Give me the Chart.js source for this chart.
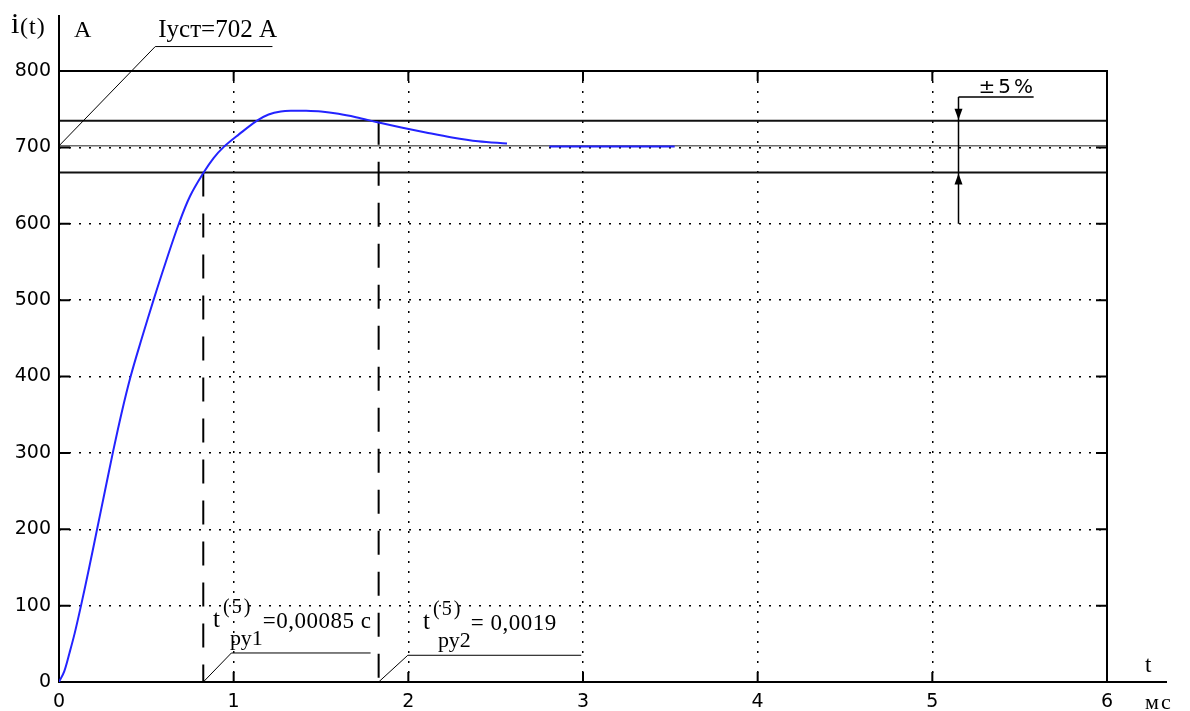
<!DOCTYPE html>
<html>
<head>
<meta charset="utf-8">
<title>i(t)</title>
<script src="https://cdn.jsdelivr.net/npm/chart.js@4.4.1/dist/chart.umd.min.js"></script>
<style>
  html, body { margin: 0; padding: 0; background: #fff; }
  #wrap { width: 1190px; height: 711px; }
</style>
</head>
<body>
<div id="wrap"><canvas id="chartCanvas" width="1190" height="711"></canvas></div>
<script>
// данные кривой тока (время в мс, ток в А), null = разрыв линии
const timeMs = [0, 0.03, 0.06, 0.09, 0.126, 0.172, 0.218, 0.263, 0.308, 0.358,
  0.41, 0.474, 0.541, 0.61, 0.686, 0.75, 0.828, 0.885, 0.945, 1.03,
  1.134, 1.2, 1.27, 1.34, 1.41, 1.5, 1.6, 1.7, 1.83, 1.96,
  2.1, 2.25, 2.4, 2.565, 2.68, 2.807, 3.525];
const currentA = [0, 14, 38, 64, 100, 149, 200, 250, 300, 352,
  400, 450, 500, 549, 600, 636, 667, 686, 701, 717,
  735, 743, 747, 748, 748, 747, 744, 739.5, 732.5, 726,
  719.5, 713, 708, 705, null, 701, 701];

// оси
const xTicks = [0, 1, 2, 3, 4, 5, 6];
const yTicks = [0, 100, 200, 300, 400, 500, 600, 700, 800];

// установившееся значение и границы ±5%
const steadyValue = 702;
const bandLines = [735, 667];

// времена регулирования (мс) и уровни, с которых опущены пунктиры
const settleTimes = [0.826, 1.83];
const settleLevels = [667, 735];
// выноски подписей t_ру: [t начала, t излома, t конца, уровень]
const settleLeaders = [[0.826, 0.987, 1.784, 38], [1.83, 1.997, 2.99, 35]];
const settleSub = ['ру1', 'ру2'];
const settleText = ['=0,00085 с', '= 0,0019'];
const settleTextAt = [[0.882, 72], [2.084, 70]];

// выноска Iуст
const steadyLeader = [[0, 702], [0.551, 832], [1.222, 832]];
const steadyLabel = 'Iуст=702 А';

// стрелка ±5%
const bandArrowT = 5.146;
const bandArrowTop = 766;
const bandArrowBottom = 600;
const bandLabelEnd = 5.58;

const SERIF = "'Liberation Serif', 'Times New Roman', serif";
const SANS = "'DejaVu Sans', sans-serif";

// рисование рамки, засечек и подписей
const overlayPlugin = {
    id: 'overlay',
    beforeDatasetsDraw(chart) {
        const ctx = chart.ctx;
        const xs = chart.scales.x;
        const ys = chart.scales.y;
        const X = v => xs.getPixelForValue(v);
        const Y = v => ys.getPixelForValue(v);
        const a = chart.chartArea;

        ctx.save();
        ctx.strokeStyle = '#000';
        ctx.lineCap = 'butt';

        // линия Iуст
        ctx.lineWidth = 1;
        ctx.strokeStyle = '#222';
        ctx.beginPath();
        ctx.moveTo(a.left, Y(steadyValue));
        ctx.lineTo(a.right, Y(steadyValue));
        ctx.stroke();

        // границы ±5%
        ctx.strokeStyle = '#111';
        ctx.lineWidth = 2;
        bandLines.forEach(v => {
            ctx.beginPath();
            ctx.moveTo(a.left, Y(v));
            ctx.lineTo(a.right, Y(v));
            ctx.stroke();
        });

        // рамка и оси
        ctx.strokeStyle = '#000';
        ctx.beginPath();
        ctx.moveTo(a.left, 15);
        ctx.lineTo(a.left, a.bottom);
        ctx.lineTo(1167, a.bottom);
        ctx.moveTo(a.left, a.top);
        ctx.lineTo(a.right, a.top);
        ctx.lineTo(a.right, a.bottom);
        ctx.stroke();

        // внутренние засечки
        ctx.lineWidth = 2;
        ctx.beginPath();
        xTicks.slice(1, -1).forEach(v => {
            ctx.moveTo(X(v), a.bottom);
            ctx.lineTo(X(v), a.bottom - 10);
            ctx.moveTo(X(v), a.top);
            ctx.lineTo(X(v), a.top + 10);
        });
        yTicks.slice(1, -1).forEach(v => {
            ctx.moveTo(a.left, Y(v));
            ctx.lineTo(a.left + 11, Y(v));
            ctx.moveTo(a.right, Y(v));
            ctx.lineTo(a.right - 11, Y(v));
        });
        ctx.stroke();

        // пунктирные вертикали времени регулирования
        ctx.setLineDash([24, 17]);
        ctx.lineWidth = 2;
        settleTimes.forEach((t, k) => {
            ctx.beginPath();
            ctx.moveTo(X(t), Y(settleLevels[k]));
            ctx.lineTo(X(t), Y(0));
            ctx.stroke();
        });
        ctx.setLineDash([]);

        // выноски
        ctx.lineWidth = 1;
        ctx.beginPath();
        steadyLeader.forEach((p, k) => {
            if (k === 0) ctx.moveTo(X(p[0]), Y(p[1]));
            else ctx.lineTo(X(p[0]), Y(p[1]));
        });
        settleLeaders.forEach(l => {
            ctx.moveTo(X(l[0]), Y(0));
            ctx.lineTo(X(l[1]), Y(l[3]));
            ctx.lineTo(X(l[2]), Y(l[3]));
        });
        ctx.stroke();

        // стрелка ±5%
        const ax = Math.round(X(bandArrowT)) + 0.5;
        ctx.lineWidth = 1.5;
        ctx.beginPath();
        ctx.moveTo(ax, Y(bandArrowTop));
        ctx.lineTo(ax, Y(bandArrowBottom));
        ctx.moveTo(ax, Y(bandArrowTop));
        ctx.lineTo(X(bandLabelEnd), Y(bandArrowTop));
        ctx.stroke();
        ctx.fillStyle = '#000';
        const yUp = Y(bandLines[0]);
        const yLo = Y(bandLines[1]);
        ctx.beginPath();
        ctx.moveTo(ax, yUp - 1);
        ctx.lineTo(ax - 4, yUp - 12);
        ctx.lineTo(ax + 4, yUp - 12);
        ctx.closePath();
        ctx.moveTo(ax, yLo + 1);
        ctx.lineTo(ax - 4, yLo + 12);
        ctx.lineTo(ax + 4, yLo + 12);
        ctx.closePath();
        ctx.fill();

        // тексты
        ctx.fillStyle = '#000';
        ctx.textBaseline = 'alphabetic';
        ctx.textAlign = 'left';

        ctx.font = '25px ' + SERIF;
        ctx.fillText(steadyLabel, X(steadyLeader[1][0]) + 3, Y(steadyLeader[1][1]) - 10);

        ctx.font = '20px ' + SANS;
        ctx.letterSpacing = '3px';
        ctx.fillText('±5%', ax + 20, Y(bandArrowTop) - 4);
        ctx.letterSpacing = '0px';

        // подписи осей
        ctx.font = '30px ' + SERIF;
        ctx.fillText('i', 11, 33);
        ctx.font = '24px ' + SERIF;
        ctx.letterSpacing = '1px';
        ctx.fillText('(t)', 20, 34);
        ctx.letterSpacing = '0px';
        ctx.font = '24px ' + SERIF;
        ctx.fillText('А', 74, 37);
        ctx.font = '23px ' + SERIF;
        ctx.fillText('t', 1145, 672);
        ctx.font = '22px ' + SERIF;
        ctx.letterSpacing = '2px';
        ctx.fillText('мс', 1145, 709);
        ctx.letterSpacing = '0px';

        // t^(5)_ру
        settleTextAt.forEach((p, k) => {
            const bx = X(p[0]);
            const by = Y(p[1]);
            ctx.font = '25px ' + SERIF;
            ctx.fillText('t', bx, by);
            ctx.font = '20px ' + SERIF;
            ctx.letterSpacing = '2px';
            ctx.fillText('(5)', bx + 10, by - 14);
            ctx.letterSpacing = '0px';
            ctx.font = '22px ' + SERIF;
            const subX = bx + (k === 0 ? 17 : 15);
            ctx.fillText(settleSub[k], subX, by + 18);
            const subW = ctx.measureText(settleSub[k]).width;
            ctx.font = '23px ' + SERIF;
            ctx.letterSpacing = '0.5px';
            ctx.fillText(settleText[k], subX + subW, by + 1);
            ctx.letterSpacing = '0px';
        });

        ctx.restore();
    }
};

const ctx = document.getElementById('chartCanvas').getContext('2d');
const points = timeMs.map((t, k) => ({ x: t, y: currentA[k] }));

const chart = new Chart(ctx, {
    type: 'line',
    data: {
        datasets: [{
            label: 'i(t)',
            data: points,
            borderColor: '#2323ff',
            borderWidth: 2,
            pointRadius: 0,
            tension: 0.35,
            spanGaps: false,
            fill: false
        }]
    },
    options: {
        responsive: false,
        animation: false,
        layout: { padding: { top: 71, right: 83, left: 0, bottom: 0 } },
        plugins: {
            legend: { display: false },
            tooltip: { enabled: false }
        },
        scales: {
            x: {
                type: 'linear',
                min: 0,
                max: 6,
                afterFit: s => { s.height = 29; },
                afterBuildTicks: s => { s.ticks = xTicks.map(v => ({ value: v })); },
                ticks: {
                    color: '#000',
                    padding: 11,
                    font: { family: SANS, size: 19, lineHeight: 1 }
                },
                grid: {
                    color: c => (c.tick && (c.tick.value === 0 || c.tick.value === 6)) ? 'rgba(0,0,0,0)' : '#000',
                    lineWidth: 1.5,
                    drawTicks: false
                },
                border: { display: false, dash: [2, 8] }
            },
            y: {
                type: 'linear',
                min: 0,
                max: 800,
                afterFit: s => { s.width = 59; },
                afterBuildTicks: s => { s.ticks = yTicks.map(v => ({ value: v })); },
                ticks: {
                    color: '#000',
                    padding: 8,
                    font: { family: SANS, size: 19, lineHeight: 1 }
                },
                grid: {
                    color: c => (c.tick && (c.tick.value === 0 || c.tick.value === 800)) ? 'rgba(0,0,0,0)' : '#000',
                    lineWidth: 1.5,
                    drawTicks: false
                },
                border: { display: false, dash: [2, 8] }
            }
        }
    },
    plugins: [overlayPlugin]
});
</script>
</body>
</html>
